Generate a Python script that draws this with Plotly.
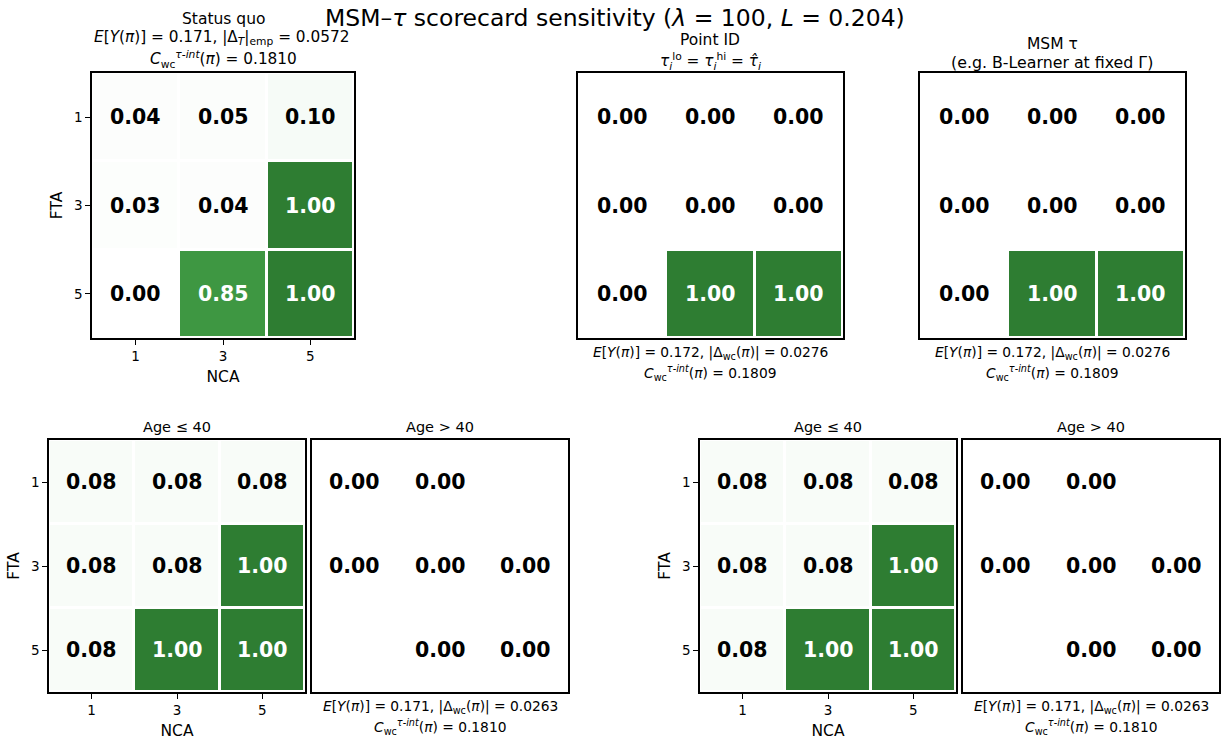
import plotly.graph_objects as go

W, H = 1225, 742

# Grid categories (FTA rows top-to-bottom, NCA columns left-to-right)
nca = ["1", "3", "5"]
fta = ["1", "3", "5"]

# Share of population flagged per (FTA, NCA) cell
status_quo = [[0.04, 0.05, 0.10],
              [0.03, 0.04, 1.00],
              [0.00, 0.85, 1.00]]
point_id = [[0.00, 0.00, 0.00],
            [0.00, 0.00, 0.00],
            [0.00, 1.00, 1.00]]
msm_tau = [[0.00, 0.00, 0.00],
           [0.00, 0.00, 0.00],
           [0.00, 1.00, 1.00]]
age_le40_a = [[0.08, 0.08, 0.08],
              [0.08, 0.08, 1.00],
              [0.08, 1.00, 1.00]]
age_gt40_a = [[0.00, 0.00, None],
              [0.00, 0.00, 0.00],
              [None, 0.00, 0.00]]
age_le40_b = [[0.08, 0.08, 0.08],
              [0.08, 0.08, 1.00],
              [0.08, 1.00, 1.00]]
age_gt40_b = [[0.00, 0.00, None],
              [0.00, 0.00, 0.00],
              [None, 0.00, 0.00]]

FONT = "DejaVu Sans"
greens = [[0.0, "#ffffff"], [0.5, "#d4ecd5"], [0.8, "#43a047"], [1.0, "#2e7d32"]]


def px_x(x):
    return x / W


def px_y(y):
    return 1 - y / H


# (data, x-range px, y-range px, show ticks)
panels = [
    (status_quo, (92, 354), (73, 338), True),
    (point_id, (578, 843), (73, 338), False),
    (msm_tau, (920, 1185), (73, 338), False),
    (age_le40_a, (49, 305), (440, 692), True),
    (age_gt40_a, (312, 568), (440, 692), False),
    (age_le40_b, (700, 956), (440, 692), True),
    (age_gt40_b, (963, 1219), (440, 692), False),
]

fig = go.Figure()
annotations = []
layout = {}

for i, (z, (x0, x1), (y0, y1), ticks) in enumerate(panels, start=1):
    xa = "x" if i == 1 else f"x{i}"
    ya = "y" if i == 1 else f"y{i}"
    fig.add_trace(go.Heatmap(
        z=z, x=nca, y=fta, colorscale=greens, zmin=0, zmax=1,
        showscale=False, xgap=3, ygap=3, hoverongaps=False,
        xaxis=xa, yaxis=ya,
    ))
    axis_common = dict(
        showline=True, mirror=True, linecolor="black", linewidth=1.5,
        showgrid=False, zeroline=False, type="category",
        tickfont=dict(family=FONT, size=13.5, color="black"),
        ticks="outside" if ticks else "", ticklen=5, tickwidth=1, tickcolor="black",
        showticklabels=ticks,
    )
    layout[f"xaxis{'' if i == 1 else i}"] = dict(
        axis_common, domain=[px_x(x0), px_x(x1)], anchor=ya,
        range=[-0.5, 2.5],
        title=dict(text="NCA" if ticks else "", font=dict(family=FONT, size=15.5, color="black"), standoff=8),
    )
    layout[f"yaxis{'' if i == 1 else i}"] = dict(
        axis_common, domain=[px_y(y1), px_y(y0)], anchor=xa,
        range=[2.5, -0.5],
        title=dict(text="FTA" if ticks else "", font=dict(family=FONT, size=15.5, color="black"), standoff=8),
    )
    # value labels, placed by category index on the panel's axes
    for r, row in enumerate(z):
        for c, v in enumerate(row):
            if v is None:
                continue
            annotations.append(dict(
                x=c, y=r, xref=xa, yref=ya, showarrow=False,
                text=f"<b>{v:.2f}</b>",
                font=dict(family=FONT, size=20.5, color="white" if v > 0.5 else "black"),
            ))


def label(text, x, y, size=13):
    annotations.append(dict(
        x=px_x(x), y=px_y(y), xref="paper", yref="paper", showarrow=False,
        text=text, xanchor="center", yanchor="middle",
        font=dict(family=FONT, size=size, color="black"),
    ))


PI = "<i>π</i>"
E_LINE = "<i>E</i>[<i>Y</i>(" + PI + ")] = {e}, |Δ<sub>wc</sub>(" + PI + ")| = {d}"
C_LINE = "<i>C</i><sub>wc</sub><sup><i>τ-int</i></sup>(" + PI + ") = {c}"

label("MSM–<i>τ</i> scorecard sensitivity (<i>λ</i> = 100, <i>L</i> = 0.204)", 615, 18, 23.5)

label("Status quo", 223, 19, 15.5)
label("<i>E</i>[<i>Y</i>(" + PI + ")] = 0.171, |Δ<sub><i>T</i></sub>|<sub>emp</sub> = 0.0572", 221, 38, 15.3)
label(C_LINE.format(c="0.1810"), 223, 60, 15.3)

label("Point ID", 710, 40, 15.5)
label("<i>τ</i><sub><i>i</i></sub><sup>lo</sup> = <i>τ</i><sub><i>i</i></sub><sup>hi</sup> = <i>τ̂</i><sub><i>i</i></sub>", 710, 61, 15.3)
label("MSM τ", 1052, 44, 15.5)
label("(e.g. B-Learner at fixed Γ)", 1052, 62, 15.8)

for cx in (710, 1052):
    label(E_LINE.format(e="0.172", d="0.0276"), cx, 353, 13.8)
    label(C_LINE.format(c="0.1809"), cx, 373, 13.8)

label("Age ≤ 40", 177, 427, 14.5)
label("Age > 40", 440, 427, 14.5)
label("Age ≤ 40", 828, 427, 14.5)
label("Age > 40", 1091, 427, 14.5)

for cx in (440, 1091):
    label(E_LINE.format(e="0.171", d="0.0263"), cx, 707, 13.8)
    label(C_LINE.format(c="0.1810"), cx, 727, 13.8)

fig.update_layout(
    width=W, height=H,
    margin=dict(l=0, r=0, t=0, b=0),
    paper_bgcolor="white", plot_bgcolor="white",
    font=dict(family=FONT, color="black"),
    annotations=annotations,
    **layout,
)

fig.write_html("out.html")
